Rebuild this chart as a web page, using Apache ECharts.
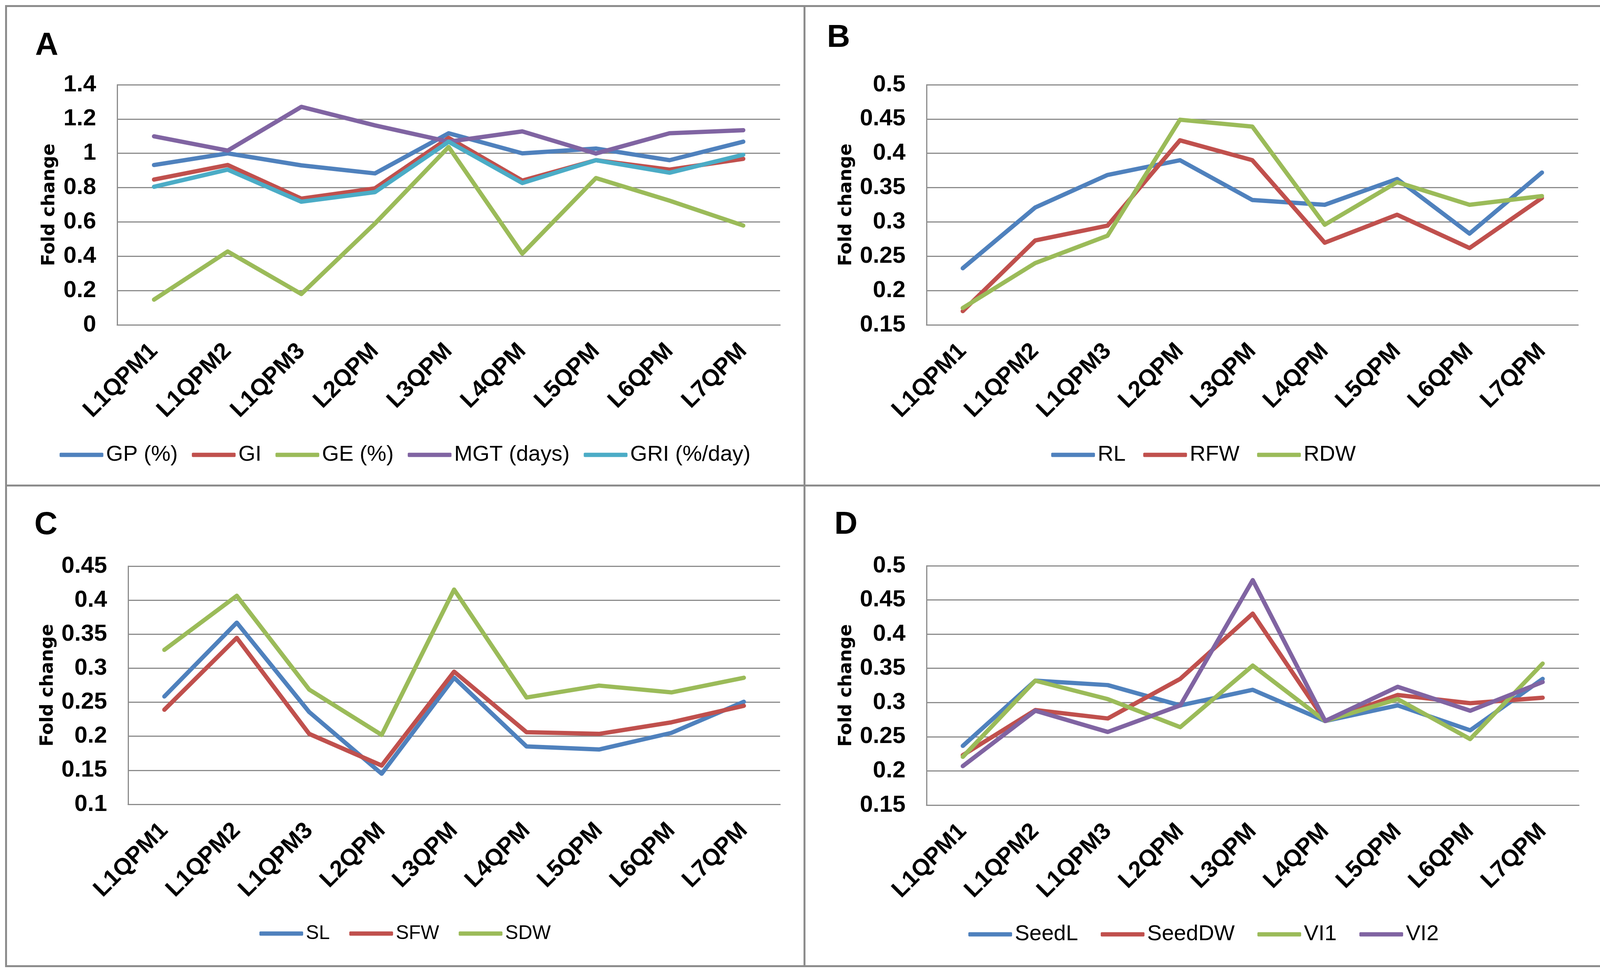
<!DOCTYPE html>
<html>

<head>
    <meta charset="utf-8">
    <title>Fold change</title>
    <script src="https://cdn.jsdelivr.net/npm/echarts@6/dist/echarts.min.js"></script>
    <style>
        body { margin: 0; background: #fff; }
        #page { position: relative; width: 4116px; height: 2492px; background: #fff; }
        .panel { position: absolute; width: 2044px; height: 1228px; }
        .frame { position: absolute; background: #8c8c8c; }
    </style>
</head>

<body>
    <div id="page">
        <div class="panel" id="pa" style="left:15px;top:16px"></div>
        <div class="panel" id="pb" style="left:2059px;top:16px"></div>
        <div class="panel" id="pc" style="left:15px;top:1244px"></div>
        <div class="panel" id="pd" style="left:2059px;top:1244px"></div>
        <!-- frame lines -->
        <div class="frame" style="left:13px;top:13px;width:4093px;height:5px"></div>
        <div class="frame" style="left:13px;top:2472px;width:4093px;height:5px"></div>
        <div class="frame" style="left:13px;top:13px;width:5px;height:2464px"></div>
        <div class="frame" style="left:4101px;top:13px;width:5px;height:2464px"></div>
        <div class="frame" style="left:2057px;top:13px;width:5px;height:2464px"></div>
        <div class="frame" style="left:13px;top:1241px;width:4093px;height:5px"></div>
    </div>
</body>
<script type="text/javascript">
    var categories = ['L1QPM1', 'L1QPM2', 'L1QPM3', 'L2QPM', 'L3QPM', 'L4QPM', 'L5QPM', 'L6QPM', 'L7QPM'];

    // A - germination
    var gp = [0.932, 1.0, 0.93, 0.883, 1.117, 1.0, 1.028, 0.96, 1.068];
    var gi = [0.847, 0.932, 0.736, 0.796, 1.09, 0.841, 0.96, 0.905, 0.968];
    var ge = [0.147, 0.428, 0.18, 0.591, 1.037, 0.415, 0.856, 0.724, 0.579];
    var mgt = [1.099, 1.016, 1.271, 1.163, 1.068, 1.128, 0.999, 1.117, 1.135];
    var gri = [0.805, 0.905, 0.718, 0.774, 1.068, 0.827, 0.96, 0.887, 0.992];

    // B - root
    var rl = [0.2325, 0.321, 0.3685, 0.39, 0.332, 0.325, 0.3626, 0.283, 0.372];
    var rfw = [0.17, 0.273, 0.2946, 0.419, 0.39, 0.2697, 0.3105, 0.262, 0.335];
    var rdw = [0.1745, 0.24, 0.28, 0.449, 0.439, 0.296, 0.358, 0.325, 0.3377];

    // C - shoot
    var sl = [0.2585, 0.367, 0.2356, 0.145, 0.286, 0.185, 0.1806, 0.205, 0.2507];
    var sfw = [0.239, 0.3446, 0.2035, 0.157, 0.295, 0.206, 0.2035, 0.2205, 0.2448];
    var sdw = [0.327, 0.4065, 0.2686, 0.202, 0.4156, 0.257, 0.2745, 0.2645, 0.286];

    // D - seed / vigour
    var seedL = [0.2366, 0.332, 0.3255, 0.2958, 0.3186, 0.273, 0.2958, 0.2594, 0.3346];
    var seedDW = [0.223, 0.289, 0.2767, 0.3346, 0.43, 0.273, 0.311, 0.299, 0.307];
    var vi1 = [0.2206, 0.332, 0.305, 0.264, 0.354, 0.273, 0.305, 0.2466, 0.357];
    var vi2 = [0.207, 0.288, 0.257, 0.2958, 0.479, 0.273, 0.323, 0.288, 0.33];

    var blue = '#4F81BD', red = '#C0504D', green = '#9BBB59', purple = '#8064A2', aqua = '#4BACC6';
    var font = '"Liberation Sans", Arial, sans-serif';

    function panel(id, p) {
        var chart = echarts.init(document.getElementById(id));
        var series = p.names.map(function(n, i) {
            return {
                name: n,
                type: 'line',
                data: p.data[i],
                symbol: 'none',
                color: p.colors[i],
                lineStyle: { width: 11, cap: 'round', join: 'round' }
            };
        });
        var option = {
            animation: false,
            grid: { left: p.grid[0], top: p.grid[1], width: p.grid[2], height: p.grid[3] },
            legend: {
                data: p.names,
                left: 'center',
                top: p.legendY - 28,
                icon: 'roundRect',
                itemWidth: 112,
                itemHeight: 11,
                itemGap: p.gap,
                textStyle: { fontFamily: font, fontSize: p.legendFont, color: '#000', padding: [0, 0, 0, 2] }
            },
            xAxis: {
                type: 'category',
                data: categories,
                axisLine: { lineStyle: { color: '#8c8c8c', width: 3 } },
                axisTick: { show: false },
                axisLabel: {
                    rotate: 45,
                    interval: 0,
                    margin: 58,
                    fontFamily: font,
                    fontWeight: 'bold',
                    fontSize: 60,
                    color: '#000'
                }
            },
            yAxis: {
                type: 'value',
                min: p.min,
                max: p.max,
                interval: p.step,
                name: 'Fold change',
                nameLocation: 'middle',
                nameGap: p.nameGap,
                nameTextStyle: { fontFamily: '"DejaVu Sans", Verdana, sans-serif', fontWeight: 'bold', fontSize: 46, color: '#000' },
                axisLine: { show: true, lineStyle: { color: '#8c8c8c', width: 3 } },
                axisTick: { show: false },
                axisLabel: {
                    margin: 54,
                    fontFamily: font,
                    fontWeight: 'bold',
                    fontSize: 60,
                    color: '#000',
                    formatter: function(v) { return (+v.toFixed(2)) + ''; }
                },
                splitLine: { lineStyle: { color: '#8c8c8c', width: 3 } }
            },
            graphic: [{
                type: 'text',
                left: p.letter[0],
                top: p.letter[1],
                style: { text: p.label, font: 'bold 82px ' + font, fill: '#000' }
            }],
            series: series
        };
        chart.setOption(option);
        return chart;
    }

    panel('pa', {
        label: 'A', letter: [75, 60],
        names: ['GP (%)', 'GI', 'GE (%)', 'MGT (days)', 'GRI (%/day)'],
        data: [gp, gi, ge, mgt, gri],
        colors: [blue, red, green, purple, aqua],
        grid: [285, 201, 1697, 615],
        min: 0, max: 1.4, step: 0.2, nameGap: 150,
        legendY: 1144, gap: 36, legendFont: 56
    });
    panel('pb', {
        label: 'B', letter: [58, 40],
        names: ['RL', 'RFW', 'RDW'],
        data: [rl, rfw, rdw],
        colors: [blue, red, green],
        grid: [313, 201, 1668, 615],
        min: 0.15, max: 0.5, step: 0.05, nameGap: 180,
        legendY: 1144, gap: 45, legendFont: 56
    });
    panel('pc', {
        label: 'C', letter: [73, 60],
        names: ['SL', 'SFW', 'SDW'],
        data: [sl, sfw, sdw],
        colors: [blue, red, green],
        grid: [313, 206, 1669, 610],
        min: 0.1, max: 0.45, step: 0.05, nameGap: 180,
        legendY: 1145, gap: 50, legendFont: 50
    });
    panel('pd', {
        label: 'D', letter: [77, 59],
        names: ['SeedL', 'SeedDW', 'VI1', 'VI2'],
        data: [seedL, seedDW, vi1, vi2],
        colors: [blue, red, green, purple],
        grid: [313, 205, 1670, 613],
        min: 0.15, max: 0.5, step: 0.05, nameGap: 178,
        legendY: 1144, gap: 58, legendFont: 56
    });
</script>

</html>
